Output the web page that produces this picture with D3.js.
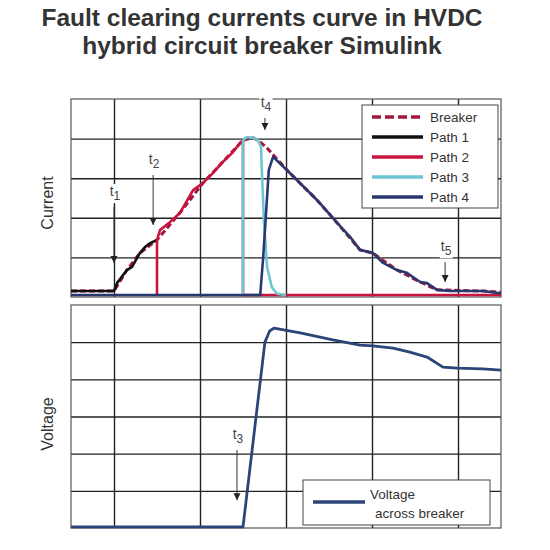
<!DOCTYPE html>
<html><head><meta charset="utf-8">
<script src="https://cdn.jsdelivr.net/npm/d3@7"></script>
<style>body{margin:0;background:#fff;}svg{display:block;font-family:"Liberation Sans",Arial,sans-serif;}</style>
</head><body>
<svg id="c" width="550" height="550"></svg>
<script>
const titleLines = ["Fault clearing currents curve in HVDC", "hybrid circuit breaker Simulink"];
const xTicks = [1, 3, 5, 7, 9];
const currentTicks = [1, 2, 3, 4];
const voltageTicks = [1, 2, 3, 4, 5];
const legendNames = ["Breaker", "Path 1", "Path 2", "Path 3", "Path 4"];

// current curves: [time, current]
const path1 = [[0,0.15],[1.0,0.15],[1.07,0.35],[1.30,0.68],[1.42,0.76],[1.60,1.11],[1.72,1.26],[1.84,1.36],[2.0,1.44]];
const path2 = [[2.0,0.05],[2.0,1.44],[2.07,1.69],[2.30,1.89],[2.53,2.12],[2.84,2.70],[3.07,2.88],[3.30,3.13],[3.53,3.41],[3.77,3.66],[3.93,3.89],[4.0,3.96],[4.0,0.05],[10,0.05]];
const path3 = [[4.0,0.05],[4.0,3.96],[4.09,4.04],[4.23,4.02],[4.35,3.96],[4.42,3.79],[4.44,3.13],[4.49,1.87],[4.56,0.76],[4.67,0.25],[4.79,0.08],[5.0,0.05]];
const path4 = [[0,0.05],[4.40,0.05],[4.47,1.01],[4.56,2.53],[4.60,3.21],[4.70,3.54],[5.09,3.13],[5.72,2.45],[6.19,1.87],[6.49,1.52],[6.72,1.19],[7.02,1.11],[7.26,0.86],[7.58,0.68],[7.81,0.61],[8.12,0.38],[8.28,0.35],[8.51,0.18],[8.81,0.15],[9.58,0.15],[9.93,0.10],[10,0.10]];
const breaker = [[0,0.15],[1.0,0.15],[1.30,0.68],[1.60,1.11],[2.0,1.44],[2.53,2.12],[3.07,2.88],[3.53,3.41],[4.0,3.96],[4.23,4.02],[4.35,3.96],[4.56,3.76],[4.70,3.59],[5.09,3.13],[5.72,2.45],[6.19,1.87],[6.72,1.19],[7.02,1.11],[7.58,0.68],[8.12,0.38],[8.51,0.18],[9.58,0.15],[10,0.12]];
// voltage across breaker: [time, voltage]
const voltage = [[0,0.03],[4.0,0.03],[4.51,5.0],[4.62,5.3],[4.72,5.38],[5.33,5.25],[6.09,5.06],[6.72,4.92],[7.02,4.90],[7.49,4.84],[7.88,4.73],[8.28,4.60],[8.65,4.33],[8.98,4.30],[9.58,4.28],[10,4.25]];
// event markers: [label, subscript, time, arrow top value, arrow tip value]
const topMarks = [["t","1",1.0,2.27,0.86],["t","2",1.91,3.08,1.82],["t","4",4.51,4.52,4.22],["t","5",8.70,0.88,0.38]];
const botMarks = [["t","3",3.86,2.10,0.75]];

const colors = {Breaker:"#a3173d","Path 1":"#111111","Path 2":"#c8143f","Path 3":"#6ec6d2","Path 4":"#2a3870"};
const svg = d3.select("#c");
const L = 71, R = 501;
const x = d3.scaleLinear().domain([0,10]).range([L,R]);
const yC = d3.scaleLinear().domain([0,5]).range([297,99]);
const yV = d3.scaleLinear().domain([0,6]).range([528,305]);

svg.selectAll("text.title").data(titleLines).join("text")
  .attr("x",262).attr("y",(d,i)=>26+i*28).attr("text-anchor","middle")
  .attr("font-size",24.5).attr("font-weight","bold").attr("fill","#333").text(d=>d);

function panel(y, yt){
  const g = svg.append("g");
  const [b,t] = y.range();
  g.append("g").attr("transform",`translate(0,${b})`)
    .call(d3.axisBottom(x).tickValues(xTicks).tickSize(-(b-t)).tickFormat(""))
    .call(s=>s.select(".domain").remove())
    .call(s=>s.selectAll("line").attr("stroke","#222").attr("stroke-width",1.4));
  g.append("g").attr("transform",`translate(${L},0)`)
    .call(d3.axisLeft(y).tickValues(yt).tickSize(-(R-L)).tickFormat(""))
    .call(s=>s.select(".domain").remove())
    .call(s=>s.selectAll("line").attr("stroke","#222").attr("stroke-width",1.4));
  g.append("rect").attr("x",L).attr("y",t).attr("width",R-L).attr("height",b-t)
    .attr("fill","none").attr("stroke","#555").attr("stroke-width",1.2);
  return g;
}
panel(yC, currentTicks);
panel(yV, voltageTicks);

const lineC = d3.line().x(d=>x(d[0])).y(d=>yC(d[1])).curve(d3.curveLinear);
const lineV = d3.line().x(d=>x(d[0])).y(d=>yV(d[1]));

svg.append("path").attr("d",lineC(breaker)).attr("fill","none").attr("stroke",colors.Breaker).attr("stroke-width",3).attr("stroke-dasharray","6,3");
[[path1,"Path 1"],[path2,"Path 2"],[path3,"Path 3"],[path4,"Path 4"]].forEach(([d,n])=>{
  svg.append("path").attr("d",lineC(d)).attr("fill","none").attr("stroke",colors[n]).attr("stroke-width",2.6).attr("stroke-linejoin","round");
});
svg.append("path").attr("d",lineV(voltage)).attr("fill","none").attr("stroke","#2b4576").attr("stroke-width",2.8).attr("stroke-linejoin","round");

// markers
function marks(data, y){
  data.forEach(([t,s,tx,v0,v1])=>{
    const px = x(tx), p0 = y(v0), p1 = y(v1);
    const g = svg.append("g");
    const bg = g.append("rect").attr("fill","#fff");
    const tx0 = g.append("text").attr("x",px+1).attr("y",p0-11).attr("text-anchor","middle").attr("font-size",14).attr("fill","#444");
    tx0.append("tspan").text(t);
    tx0.append("tspan").attr("font-size",12).attr("dy",4).text(s);
    const bb = tx0.node().getBBox();
    bg.attr("x",bb.x-1).attr("y",bb.y+1).attr("width",bb.width+2).attr("height",bb.height-1);
    svg.append("line").attr("x1",px).attr("x2",px).attr("y1",p0).attr("y2",p1).attr("stroke","#333").attr("stroke-width",1);
    svg.append("path").attr("d",`M${px-3.5},${p1-7}L${px+3.5},${p1-7}L${px},${p1}Z`).attr("fill","#222");
  });
}
marks(topMarks, yC);
marks(botMarks, yV);

// axis titles
svg.append("text").attr("transform","translate(53,203) rotate(-90)").attr("text-anchor","middle").attr("font-size",16).attr("fill","#333").text("Current");
svg.append("text").attr("transform","translate(53,424) rotate(-90)").attr("text-anchor","middle").attr("font-size",16).attr("fill","#333").text("Voltage");

// top legend
const lg = svg.append("g");
lg.append("rect").attr("x",362).attr("y",105).attr("width",136).attr("height",103).attr("fill","#fff").attr("stroke","#444").attr("stroke-width",1);
legendNames.forEach((n,i)=>{
  const yy = 117 + i*20;
  lg.append("line").attr("x1",372).attr("x2",423).attr("y1",yy).attr("y2",yy).attr("stroke",colors[n]).attr("stroke-width",3.5)
    .attr("stroke-dasharray", n==="Breaker" ? "9,4" : null);
  lg.append("text").attr("x",430).attr("y",yy+5).attr("font-size",13.5).attr("fill","#333").text(n);
});
// bottom legend
const lv = svg.append("g");
lv.append("rect").attr("x",303).attr("y",480).attr("width",187).attr("height",45).attr("fill","#fff").attr("stroke","#444").attr("stroke-width",1);
lv.append("line").attr("x1",313).attr("x2",365).attr("y1",502).attr("y2",502).attr("stroke","#2b4576").attr("stroke-width",3.5);
lv.append("text").attr("x",370).attr("y",499).attr("font-size",13.5).attr("fill","#333").text("Voltage");
lv.append("text").attr("x",375).attr("y",518).attr("font-size",13.5).attr("fill","#333").text("across breaker");
</script>
</body></html>
